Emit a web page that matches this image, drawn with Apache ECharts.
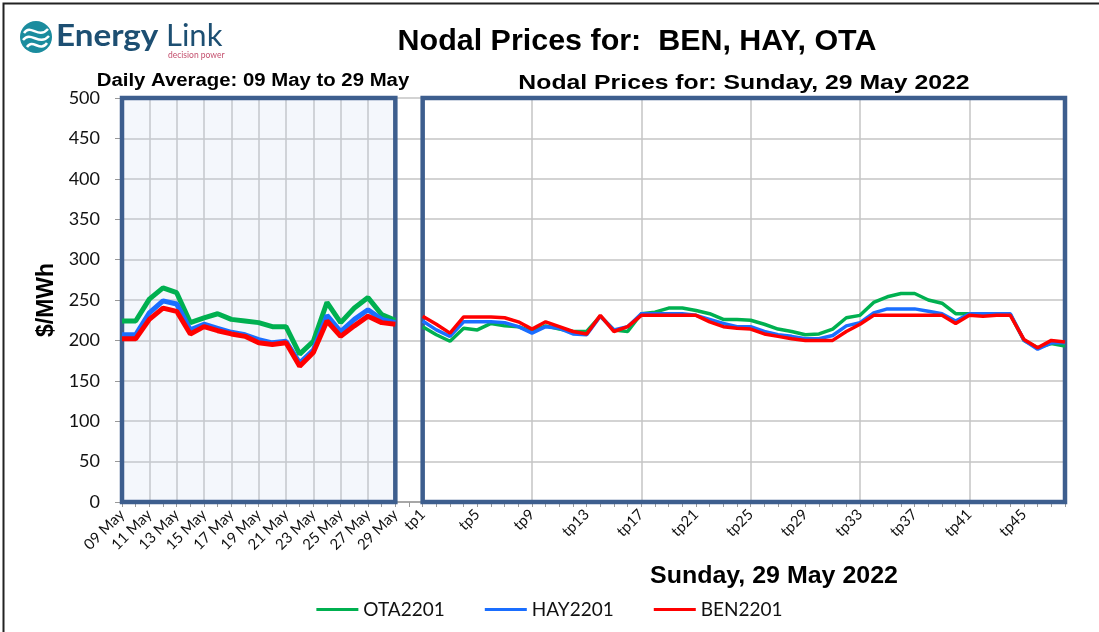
<!DOCTYPE html>
<html>
<head>
<meta charset="utf-8">
<script src="https://cdn.jsdelivr.net/npm/echarts@6/dist/echarts.min.js"></script>
</head>
<body style="margin:0">
<div id="container" style="width:1099px;height:632px"></div>
<script>
var days = ['09 May', '10 May', '11 May', '12 May', '13 May', '14 May', '15 May',
    '16 May', '17 May', '18 May', '19 May', '20 May', '21 May', '22 May',
    '23 May', '24 May', '25 May', '26 May', '27 May', '28 May', '29 May'];
var periods = [];
for (var i = 1; i <= 48; i++) periods.push('tp' + i);

// daily averages, 09 May .. 29 May
var otaDaily = [224, 224, 251, 265, 259, 222, 228, 233, 226, 224, 222, 217, 217, 183, 199, 247, 222, 240, 253, 232, 225];
var hayDaily = [207, 207, 234, 249, 245, 213, 220, 215, 210, 207, 201, 197, 199, 172, 188, 231, 211, 226, 238, 226, 222];
var benDaily = [202, 202, 226, 240, 236, 208, 217, 212, 208, 205, 197, 195, 197, 168, 185, 224, 205, 218, 230, 222, 220];

// trading periods for Sunday 29 May
var otaTp = [217, 207, 199, 215, 213, 221, 218, 217, 211, 218, 214, 211, 211, 230, 213, 211, 233, 235, 240, 240, 237, 233, 226, 226,
    225, 220, 214, 211, 207, 208, 214, 228, 231, 247, 254, 258, 258, 250, 246, 233, 233, 232, 232, 232, 200, 191, 196, 193];
var hayTp = [224, 213, 205, 223, 223, 223, 222, 217, 209, 217, 215, 208, 207, 230, 213, 217, 233, 233, 233, 233, 231, 226, 221, 217,
    217, 211, 207, 205, 202, 202, 206, 218, 222, 234, 239, 239, 239, 236, 233, 224, 233, 233, 233, 233, 200, 189, 197, 197];
var benTp = [230, 220, 209, 229, 229, 229, 228, 223, 214, 223, 217, 211, 208, 231, 211, 217, 231, 231, 231, 231, 231, 223, 217, 215,
    214, 208, 205, 202, 200, 200, 200, 211, 220, 231, 231, 231, 231, 231, 231, 221, 231, 230, 231, 231, 201, 191, 200, 198];

var categories = days.concat([''], periods);

function blanks(n) {
    var a = [];
    for (var i = 0; i < n; i++) a.push(null);
    return a;
}
function leftPart(arr) { return arr.concat(blanks(categories.length - arr.length)); }
function rightPart(arr) { return blanks(categories.length - arr.length).concat(arr); }

var GREEN = '#00b050', BLUE = '#1a6eff', RED = '#ff0000';
var BOX = '#3d5e8e';

function line(name, color, data, width) {
    return {
        name: name, type: 'line', data: data, symbol: 'none', z: 3,
        lineStyle: { color: color, width: width }, itemStyle: { color: color }
    };
}

function label(x, y, text, size, sx) {
    return {
        type: 'text', x: x, y: y, scaleX: sx || 1,
        style: { text: text, fontFamily: 'Liberation Sans', fontWeight: 'bold', fontSize: size,
            fill: '#000', textAlign: 'center', textVerticalAlign: 'middle' }
    };
}

var myChart = echarts.init(document.getElementById('container'));
var option = {
    animation: false,
    backgroundColor: '#fff',
    grid: { left: 122, right: 34, top: 98, bottom: 130 },
    legend: {
        data: ['OTA2201', 'HAY2201', 'BEN2201'],
        bottom: 8, left: 'center', padding: [5, 0, 5, 8],
        icon: 'rect', itemWidth: 42, itemHeight: 3, itemGap: 40,
        textStyle: { fontFamily: 'Lato', fontSize: 19, color: '#111' }
    },
    xAxis: {
        type: 'category',
        data: categories,
        boundaryGap: false,
        axisLine: { lineStyle: { color: '#999', width: 1.5 } },
        axisTick: { show: true, interval: 0, length: 5, lineStyle: { color: '#999' } },
        axisLabel: {
            rotate: 45, margin: 10,
            fontFamily: 'Lato', fontSize: 15, color: '#111',
            interval: function (i) {
                if (i <= 20) return i % 2 === 0;
                return i >= 22 && (i - 22) % 4 === 0;
            }
        },
        splitLine: {
            show: true,
            lineStyle: { color: '#c4c4c4', width: 1.5 },
            interval: function (i) {
                if (i <= 20) return i % 2 === 0;
                return i >= 22 && ((i - 22) % 8 === 0 || i === categories.length - 1);
            }
        }
    },
    yAxis: {
        type: 'value', min: 0, max: 500, interval: 50,
        name: '$/MWh', nameLocation: 'middle', nameGap: 64,
        nameTextStyle: { fontFamily: 'Liberation Sans', fontWeight: 'bold', fontSize: 23, color: '#000' },
        axisLine: { show: true, lineStyle: { color: '#999', width: 1.5 } },
        axisTick: { show: true, length: 7, lineStyle: { color: '#999' } },
        axisLabel: { fontFamily: 'Lato', fontSize: 18, color: '#111', margin: 22 },
        splitLine: { lineStyle: { color: '#c4c4c4', width: 1.5 } }
    },
    graphic: [
        { type: 'rect', shape: { x: 3.5, y: 3.5, width: 1300, height: 800 },
          style: { fill: 'none', stroke: '#222', lineWidth: 2 }, silent: true },
        { type: 'circle', shape: { cx: 36, cy: 37, r: 16 }, style: { fill: '#1b8c9e' } },
        { type: 'bezierCurve', shape: { x1: 24, y1: 33, x2: 48, y2: 29, cpx1: 31, cpy1: 23, cpx2: 38, cpy2: 40 },
          style: { stroke: '#fff', lineWidth: 2.5, fill: 'none' } },
        { type: 'bezierCurve', shape: { x1: 23, y1: 40, x2: 49, y2: 36, cpx1: 31, cpy1: 30, cpx2: 39, cpy2: 47 },
          style: { stroke: '#fff', lineWidth: 2.5, fill: 'none' } },
        { type: 'bezierCurve', shape: { x1: 27, y1: 47, x2: 47, y2: 43, cpx1: 33, cpy1: 38, cpx2: 40, cpy2: 53 },
          style: { stroke: '#fff', lineWidth: 2.5, fill: 'none' } },
        { type: 'text', x: 56, y: 36, scaleX: 1.07, style: { text: 'Energy', fontFamily: 'Lato', fontWeight: 'bold', fontSize: 31,
          fill: '#1d4f72', textVerticalAlign: 'middle' } },
        { type: 'text', x: 166, y: 36, style: { text: 'Link', fontFamily: 'Lato', fontSize: 31,
          fill: '#1d4f72', textVerticalAlign: 'middle' } },
        { type: 'text', x: 168, y: 55, style: { text: 'decision power', fontFamily: 'Lato', fontSize: 8.5,
          fill: '#c4506e', textVerticalAlign: 'middle' } },
        label(637, 42, 'Nodal Prices for:  BEN, HAY, OTA', 29, 1.05),
        label(253, 81, 'Daily Average: 09 May to 29 May', 18, 1.13),
        label(744, 83, 'Nodal Prices for: Sunday, 29 May 2022', 21, 1.18),
        label(774, 576, 'Sunday, 29 May 2022', 24, 1.04)
    ],
    series: [
        {
            type: 'line', data: [], z: 1, silent: true,
            markArea: {
                silent: true,
                itemStyle: { borderColor: BOX, borderWidth: 4.5 },
                data: [
                    [{ xAxis: '09 May', yAxis: 500, itemStyle: { color: 'rgba(200,215,240,0.2)' } }, { xAxis: '29 May', yAxis: 0 }],
                    [{ xAxis: 'tp1', yAxis: 500, itemStyle: { color: 'rgba(0,0,0,0)' } }, { xAxis: 'tp48', yAxis: 0 }]
                ]
            }
        },
        line('OTA2201', GREEN, leftPart(otaDaily), 5),
        line('HAY2201', BLUE, leftPart(hayDaily), 5),
        line('BEN2201', RED, leftPart(benDaily), 5),
        line('OTA2201', GREEN, rightPart(otaTp), 3.5),
        line('HAY2201', BLUE, rightPart(hayTp), 3.5),
        line('BEN2201', RED, rightPart(benTp), 3.5)
    ]
};
myChart.setOption(option);
</script>
</body>
</html>
